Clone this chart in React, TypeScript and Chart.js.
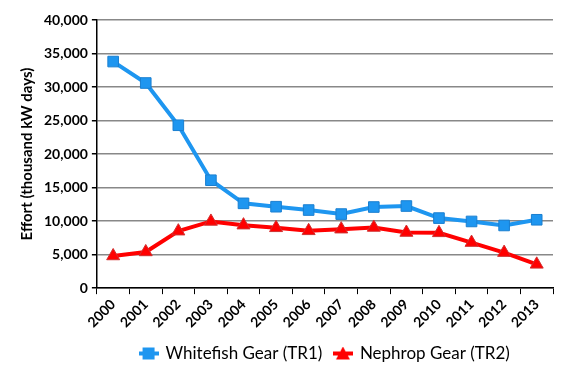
import React, { useEffect, useRef } from "react";
import { Chart, registerables } from "chart.js";

Chart.register(...registerables);

const years = ["2000","2001","2002","2003","2004","2005","2006","2007","2008","2009","2010","2011","2012","2013"];
const whitefish = [33800, 30600, 24300, 16100, 12650, 12150, 11650, 11050, 12100, 12250, 10450, 9950, 9350, 10200];
const nephrop = [4800, 5400, 8500, 9950, 9400, 9000, 8550, 8800, 9050, 8300, 8250, 6800, 5300, 3550];

const blue = "#1E96F0";
const red = "#FF0000";
const FONT = "Lato, 'DejaVu Sans', sans-serif";

function legendIcon(kind: "rect" | "tri", color: string): HTMLCanvasElement {
  const c = document.createElement("canvas");
  c.width = 20; c.height = 14;
  const g = c.getContext("2d")!;
  g.strokeStyle = color; g.lineWidth = 4;
  g.beginPath(); g.moveTo(0, 7); g.lineTo(20, 7); g.stroke();
  g.fillStyle = color;
  if (kind === "rect") {
    g.fillRect(4, 1, 12, 12);
  } else {
    g.beginPath(); g.moveTo(10, 0); g.lineTo(17, 13); g.lineTo(3, 13); g.closePath(); g.fill();
  }
  return c;
}

const centerLegend = {
  id: "centerLegend",
  afterLayout(chart: any) {
    const lg = chart.legend;
    const ca = chart.chartArea;
    if (!lg || !ca) return;
    const shift = (ca.left + ca.right) / 2 - (lg.left + lg.right) / 2;
    lg.left += shift;
    lg.right += shift;
  },
};

export default function App() {
  const ref = useRef<HTMLCanvasElement>(null);
  useEffect(() => {
    document.body.style.margin = "0";
    const icons = [legendIcon("rect", blue), legendIcon("tri", red)];
    const chart = new Chart(ref.current!, {
      type: "line",
      plugins: [centerLegend],
      data: {
        labels: years,
        datasets: [
          {
            label: "Whitefish Gear (TR1)",
            data: whitefish,
            borderColor: blue,
            backgroundColor: blue,
            borderWidth: 4,
            pointStyle: "rect",
            pointRadius: 7.5,
            pointBorderColor: "#1A7FD0",
            pointBorderWidth: 1,
            pointBackgroundColor: blue,
          },
          {
            label: "Nephrop Gear (TR2)",
            data: nephrop,
            borderColor: red,
            backgroundColor: red,
            borderWidth: 4,
            pointStyle: "triangle",
            pointRadius: 7.5,
            pointBorderColor: "#D03030",
            pointBorderWidth: 1,
            pointBackgroundColor: red,
          },
        ],
      },
      options: {
        animation: false,
        responsive: false,
        layout: { padding: { left: 18, right: 34, top: 20, bottom: 4 } },
        plugins: {
          legend: {
            position: "bottom",
            labels: {
              usePointStyle: true,
              color: "#000",
              font: { family: FONT, size: 17 },
              padding: 12,
              generateLabels: (ch: any) =>
                ch.data.datasets.map((d: any, i: number) => ({
                  text: d.label,
                  pointStyle: icons[i],
                  fillStyle: d.backgroundColor,
                  strokeStyle: d.borderColor,
                  lineWidth: 0,
                  hidden: false,
                  datasetIndex: i,
                  fontColor: "#000",
                })),
            },
          },
          tooltip: { enabled: false },
        },
        scales: {
          x: {
            offset: true,
            grid: { display: true, drawOnChartArea: false, drawTicks: true, tickLength: 6, color: "#000", offset: true },
            border: { color: "#000", width: 1.5 },
            ticks: { color: "#000", font: { family: FONT, size: 14, weight: "bold" }, maxRotation: 45, minRotation: 45, autoSkip: false, padding: 2 },
          },
          y: {
            min: 0,
            max: 40000,
            ticks: {
              stepSize: 5000,
              color: "#000",
              font: { family: FONT, size: 14, weight: "bold" },
              callback: (v: any) => Number(v).toLocaleString("en-US"),
              padding: 4,
            },
            grid: { color: "#888", lineWidth: 1.5, tickLength: 5, tickColor: "#000" },
            border: { color: "#000", width: 1.5 },
            title: {
              display: true,
              text: "Effort (thousand kW days)",
              color: "#000",
              font: { family: FONT, size: 15, weight: "bold" },
              padding: { top: 0, bottom: 4 },
            },
          },
        },
      },
    });
    return () => chart.destroy();
  }, []);
  return (
    <div style={{ width: 587, height: 376, background: "#fff" }}>
      <canvas ref={ref} width={587} height={376} />
    </div>
  );
}
